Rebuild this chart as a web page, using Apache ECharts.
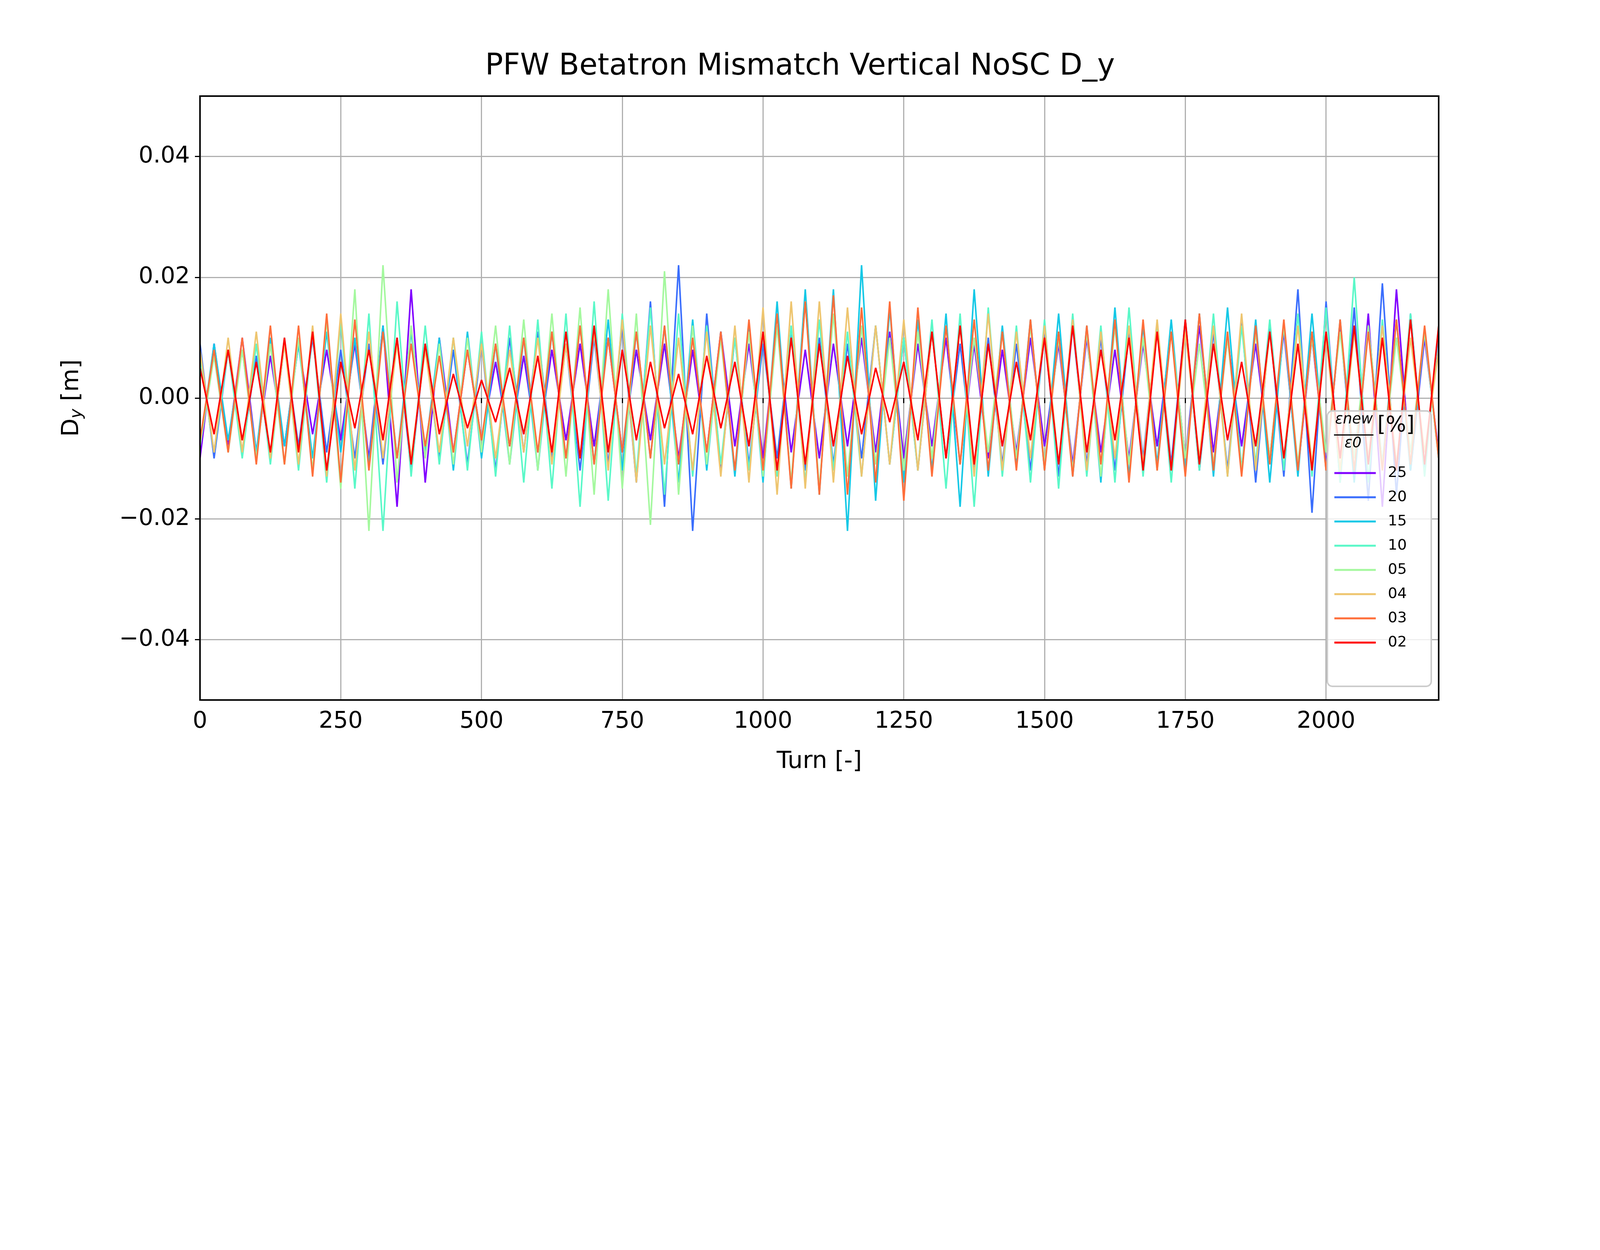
<!DOCTYPE html>
<html><head><meta charset="utf-8">
<script src="https://cdn.jsdelivr.net/npm/echarts@6/dist/echarts.min.js"></script>
<style>html,body{margin:0;background:#fff;overflow:hidden}#c{width:100vw;height:50vw}</style>
</head><body><div id="c"></div>
<script>
const turnStep = 25;
const names = ["25", "20", "15", "10", "05", "04", "03", "02"];
const colors = ["#8000ff", "#3a6efd", "#14c8e6", "#5af8c8", "#a4f89e", "#eec56f", "#ff6e3a", "#ff0000"];
const yTicks = [-0.04, -0.02, 0, 0.02, 0.04];
const d25 = [-10,9,-8,10,-9,7,-8,9,-6,8,-7,9,-10,12,-18,18,-14,10,-9,8,-7,6,-8,7,-9,8,-7,9,-8,10,-9,8,-7,9,-10,8,-9,11,-8,9,-10,12,-9,8,-10,9,-8,10,-9,11,-10,9,-8,10,-11,9,-10,8,-9,10,-8,9,-11,10,-9,8,-10,9,-8,11,-10,12,-9,10,-8,9,-10,11,-12,10,-11,12,-13,14,-18,18,-12,10,-9];
const d20 = [9,-10,8,-9,7,-10,9,-8,10,-9,8,-10,9,-11,10,-12,9,-10,8,-11,9,-12,10,-9,11,-10,9,-12,10,-11,12,-14,16,-18,22,-22,14,-12,10,-11,9,-10,11,-12,10,-11,9,-10,12,-11,10,-12,11,-10,9,-12,10,-11,9,-12,11,-13,12,-11,10,-12,11,-10,12,-11,13,-12,11,-12,13,-14,12,-13,18,-19,16,-14,15,-17,19,-16,14,-12,11];
const d15 = [-8,9,-7,8,-9,10,-8,9,-10,11,-9,10,-11,12,-10,11,-9,10,-12,11,-10,9,-11,10,-12,11,-10,12,-11,13,-12,11,-10,12,-14,13,-12,11,-13,12,-14,16,-15,18,-16,18,-22,22,-17,15,-14,13,-12,14,-18,18,-13,12,-11,13,-12,14,-13,12,-14,15,-13,12,-11,13,-12,14,-13,15,-12,13,-14,12,-13,14,-12,13,-14,12,-11,13,-12,11,-10];
const d10 = [7,-9,8,-10,9,-11,10,-12,11,-14,13,-15,14,-22,16,-13,12,-11,10,-12,11,-13,12,-14,13,-15,14,-18,16,-17,14,-13,15,-16,14,-13,12,-11,10,-12,11,-13,12,-14,13,-12,11,-13,12,-11,10,-12,13,-15,14,-18,15,-13,12,-14,13,-15,14,-13,12,-14,15,-13,12,-14,13,-12,14,-13,12,-11,13,-12,14,-13,15,-14,20,-14,13,-12,14,-13,12];
const d05 = [-8,7,-9,8,-10,9,-11,10,-12,13,-15,18,-22,22,-14,12,-10,9,-11,10,-9,12,-11,13,-12,14,-13,15,-16,18,-15,14,-21,21,-16,12,-11,10,-12,11,-13,12,-14,16,-15,14,-13,12,-11,10,-12,11,-10,12,-11,10,-9,11,-10,12,-11,10,-12,11,-13,12,-11,10,-12,11,-10,9,-11,10,-12,11,-10,12,-11,10,-9,11,-10,12,-11,10,-9,11,-10];
const d04 = [8,-9,10,-9,11,-10,9,-11,12,-13,14,-12,11,-10,9,-10,8,-9,10,-8,9,-10,8,-9,10,-11,9,-10,11,-12,13,-14,12,-11,10,-12,11,-13,12,-14,15,-16,16,-15,16,-14,15,-13,12,-11,13,-12,11,-10,12,-13,14,-12,11,-10,12,-11,13,-12,11,-10,12,-11,13,-12,11,-10,12,-13,14,-12,11,-10,12,-11,10,-12,11,-10,12,-11,10,-9,8];
const d03 = [-7,8,-9,10,-11,12,-11,12,-13,14,-14,13,-12,11,-10,9,-8,7,-9,8,-7,9,-8,10,-9,11,-10,12,-11,10,-9,11,-10,12,-11,10,-9,11,-12,13,-12,14,-15,16,-16,17,-16,15,-14,16,-17,15,-13,12,-11,13,-12,11,-12,13,-12,11,-13,12,-11,13,-14,13,-12,11,-13,14,-12,11,-13,12,-11,13,-12,11,-12,13,-12,11,-12,13,-11,12,-10];
const d02 = [5,-6,8,-7,6,-9,10,-9,11,-12,6,-5,8,-7,10,-11,9,-6,4,-5,3,-4,5,-6,7,-9,11,-10,12,-9,8,-7,6,-5,4,-6,7,-5,6,-8,11,-12,10,-11,9,-8,7,-6,5,-4,6,-7,11,-10,12,-11,9,-8,6,-7,10,-11,12,-9,8,-7,10,-12,11,-12,13,-11,9,-7,6,-8,11,-10,9,-12,11,-10,12,-11,10,-12,13,-11,12];
const seriesValues = [d25, d20, d15, d10, d05, d04, d03, d02];

const el = document.getElementById('c');
const chart = echarts.init(el);
const s = el.clientWidth / 6400;
const px = v => Math.round(v * s);
const font = 'DejaVu Sans';
chart.setOption({
  animation: false,
  title: {text: 'PFW Betatron Mismatch Vertical NoSC D_y', left: 'center', top: px(200),
    textStyle: {fontFamily: font, fontSize: px(118), fontWeight: 'normal', color: '#000'}},
  grid: {left: px(800), right: px(645), top: px(384), bottom: px(400), show: true, borderColor: '#000', borderWidth: px(6), z: 20},
  xAxis: {type: 'value', min: 0, max: 2200, interval: 250, name: 'Turn [-]', nameLocation: 'middle', nameGap: px(200),
    nameTextStyle: {fontFamily: font, fontSize: px(96), color: '#000'},
    axisLine: {show: false}, axisTick: {show: true, length: px(20), lineStyle: {color: '#000', width: px(4)}},
    axisLabel: {fontFamily: font, fontSize: px(92), color: '#000', margin: px(40), showMaxLabel: false, formatter: v => String(v)},
    splitLine: {show: true, lineStyle: {color: '#b0b0b0', width: px(4)}}},
  yAxis: {type: 'value', min: -0.05, max: 0.05, name: '{a|D}{b|y}{a| [m]}', nameLocation: 'middle', nameGap: px(460),
    nameTextStyle: {rich: {a: {fontFamily: font, fontSize: px(96), color: '#000'},
      b: {fontFamily: font, fontSize: px(66), fontStyle: 'italic', color: '#000', verticalAlign: 'bottom', padding: [px(40), 0, 0, 0]}}},
    axisLine: {show: false},
    axisTick: {show: true, length: px(20), customValues: yTicks, lineStyle: {color: '#000', width: px(4)}},
    axisLabel: {fontFamily: font, fontSize: px(92), color: '#000', margin: px(40), customValues: yTicks,
      formatter: v => (v < -1e-9 ? '\u2212' : '') + Math.abs(v).toFixed(2)},
    splitLine: {show: true, lineStyle: {color: '#b0b0b0', width: px(4)}}},
  legend: {orient: 'vertical', left: px(5330), top: px(1855), itemGap: px(38), itemWidth: px(165), itemHeight: px(8),
    data: names, icon: 'rect', z: 60,
    textStyle: {fontFamily: font, fontSize: px(60), color: '#000', padding: [0, 0, 0, px(40)]}},
  graphic: [
    {type: 'rect', left: px(5307), top: px(1641), shape: {width: px(416), height: px(1102), r: px(20)}, z: 50,
      style: {fill: 'rgba(255,255,255,0.8)', stroke: '#cccccc', lineWidth: px(6)}},
    {type: 'text', left: px(5340), top: px(1650), z: 60, style: {text: 'εnew', font: 'italic ' + px(58) + 'px DejaVu Sans', fill: '#000'}},
    {type: 'rect', left: px(5336), top: px(1737), z: 60, shape: {width: px(158), height: px(5)}, style: {fill: '#000'}},
    {type: 'text', left: px(5378), top: px(1745), z: 60, style: {text: 'ε0', font: 'italic ' + px(58) + 'px DejaVu Sans', fill: '#000'}},
    {type: 'text', left: px(5510), top: px(1660), z: 60, style: {text: '[%]', font: px(86) + 'px DejaVu Sans', fill: '#000'}}
  ],
  series: seriesValues.map((vals, k) => ({
    name: names[k], type: 'line', showSymbol: false, z: 2 + k,
    lineStyle: {width: px(6), color: colors[k]}, itemStyle: {color: colors[k]},
    data: vals.map((v, i) => [i * turnStep, v / 1000])
  }))
});
</script></body></html>
